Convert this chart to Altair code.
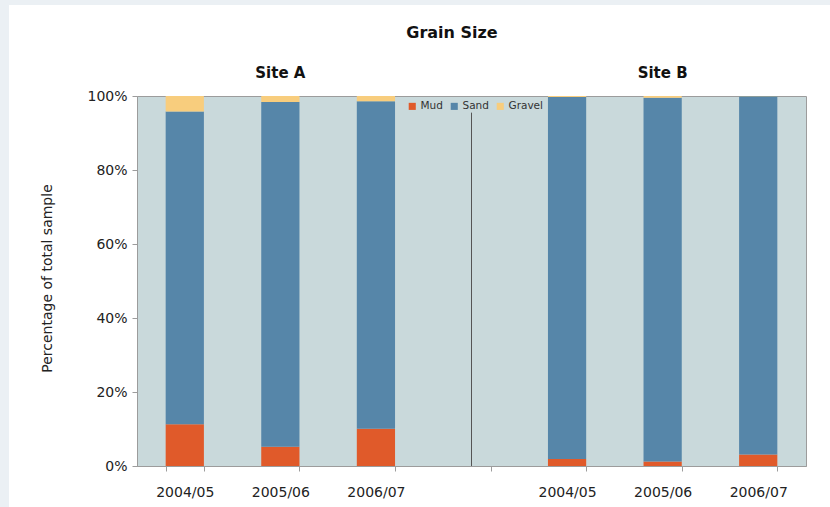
import altair as alt
import pandas as pd

# Grain-size composition (% of total sample) for two sites over three surveys
sites = ["Site A", "Site B"]
years = ["2004/05", "2005/06", "2006/07"]
components = ["Mud", "Sand", "Gravel"]
colors = ["#e05a2a", "#5686a9", "#f8cd7d"]

mud_a = [11.3, 5.2, 10.1]
sand_a = [84.5, 93.2, 88.5]
gravel_a = [4.2, 1.6, 1.4]

mud_b = [1.9, 1.2, 3.1]
sand_b = [97.8, 98.3, 96.8]
gravel_b = [0.3, 0.5, 0.1]

GAP = "gap|"
slots = [f"Site A|{y}" for y in years] + [GAP] + [f"Site B|{y}" for y in years]

rows = []
for site, mud, sand, gravel in [("Site A", mud_a, sand_a, gravel_a),
                                ("Site B", mud_b, sand_b, gravel_b)]:
    for i, y in enumerate(years):
        for k, (comp, val) in enumerate(zip(components, [mud[i], sand[i], gravel[i]])):
            rows.append({"slot": f"{site}|{y}", "component": comp, "value": val, "order": k})
df = pd.DataFrame(rows)

site_df = pd.DataFrame({"slot": [f"{s}|{years[1]}" for s in sites], "label": sites})
divider_df = pd.DataFrame({"slot": [GAP], "y0": [0.0], "y1": [0.955]})

FONT = "DejaVu Sans"

x_scale = alt.Scale(domain=slots, paddingInner=0.6, paddingOuter=0.3)

bars = alt.Chart(df).mark_bar().encode(
    x=alt.X("slot:N", scale=x_scale, sort=slots,
            axis=alt.Axis(title=None, labelExpr="split(datum.label, '|')[1]",
                          labelAngle=0, tickBand="extent", tickSize=5,
                          labelPadding=14, labelFontSize=14, labelColor="#222",
                          domainColor="#9c9c9c", tickColor="#9c9c9c", labelFont=FONT)),
    y=alt.Y("value:Q", stack="normalize",
            scale=alt.Scale(domain=[0, 1]),
            axis=alt.Axis(title="Percentage of total sample", format=".0%",
                          values=[0, 0.2, 0.4, 0.6, 0.8, 1.0], grid=False,
                          tickSize=5, labelPadding=5, labelFontSize=14,
                          labelColor="#222", domainColor="#9c9c9c",
                          tickColor="#9c9c9c", labelFont=FONT,
                          titleFont=FONT, titleFontSize=14, titleFontWeight="normal",
                          titleColor="#222", titleX=-90, titleY=182,
                          titleAngle=-90, titleBaseline="middle")),
    color=alt.Color("component:N",
                    scale=alt.Scale(domain=components, range=colors),
                    legend=alt.Legend(title=None, orient="none", legendX=270, legendY=5,
                                      direction="horizontal", symbolType="square",
                                      symbolSize=50, symbolStrokeWidth=0,
                                      labelFontSize=10.5, labelFont=FONT,
                                      labelColor="#333", columnPadding=6,
                                      labelOffset=3, padding=0)),
    order=alt.Order("order:Q", sort="ascending"),
)

divider = alt.Chart(divider_df).mark_rule(color="#555555", strokeWidth=1).encode(
    x=alt.X("slot:N", scale=x_scale, sort=slots),
    y="y0:Q",
    y2="y1:Q",
)

site_titles = alt.Chart(site_df).mark_text(
    font=FONT, fontSize=15, fontWeight="bold", color="#111", baseline="middle"
).encode(
    x=alt.X("slot:N", scale=x_scale, sort=slots),
    y=alt.value(-23),
    text="label:N",
)

# chart heading, set above the two site labels
heading = alt.Chart(pd.DataFrame({"text": ["Grain Size"]})).mark_text(
    font=FONT, fontSize=16, fontWeight="bold", color="#111", baseline="middle"
).encode(x=alt.value(315), y=alt.value(-63), text="text:N")

# thin pale frame along the top and left edges of the page
frame_df = pd.DataFrame({"edge": ["top", "left"]})
frame_top = alt.Chart(frame_df.iloc[[0]]).mark_rect(color="#ebf0f4").encode(
    x=alt.value(-137), x2=alt.value(693), y=alt.value(-96), y2=alt.value(-91))
frame_left = alt.Chart(frame_df.iloc[[1]]).mark_rect(color="#ebf0f4").encode(
    x=alt.value(-137), x2=alt.value(-128), y=alt.value(-96), y2=alt.value(411))

chart = alt.layer(frame_top, frame_left, bars, divider, site_titles, heading).properties(
    width=669,
    height=370,
    padding={"left": 137, "top": 96, "right": 24, "bottom": 41},
    autosize=alt.AutoSizeParams(type="none"),
    background="white",
).configure_view(
    fill="#c9d9db", stroke="#9c9c9c", strokeWidth=1
)

chart.save("out.html", embed_options={"renderer": "svg", "actions": False})
